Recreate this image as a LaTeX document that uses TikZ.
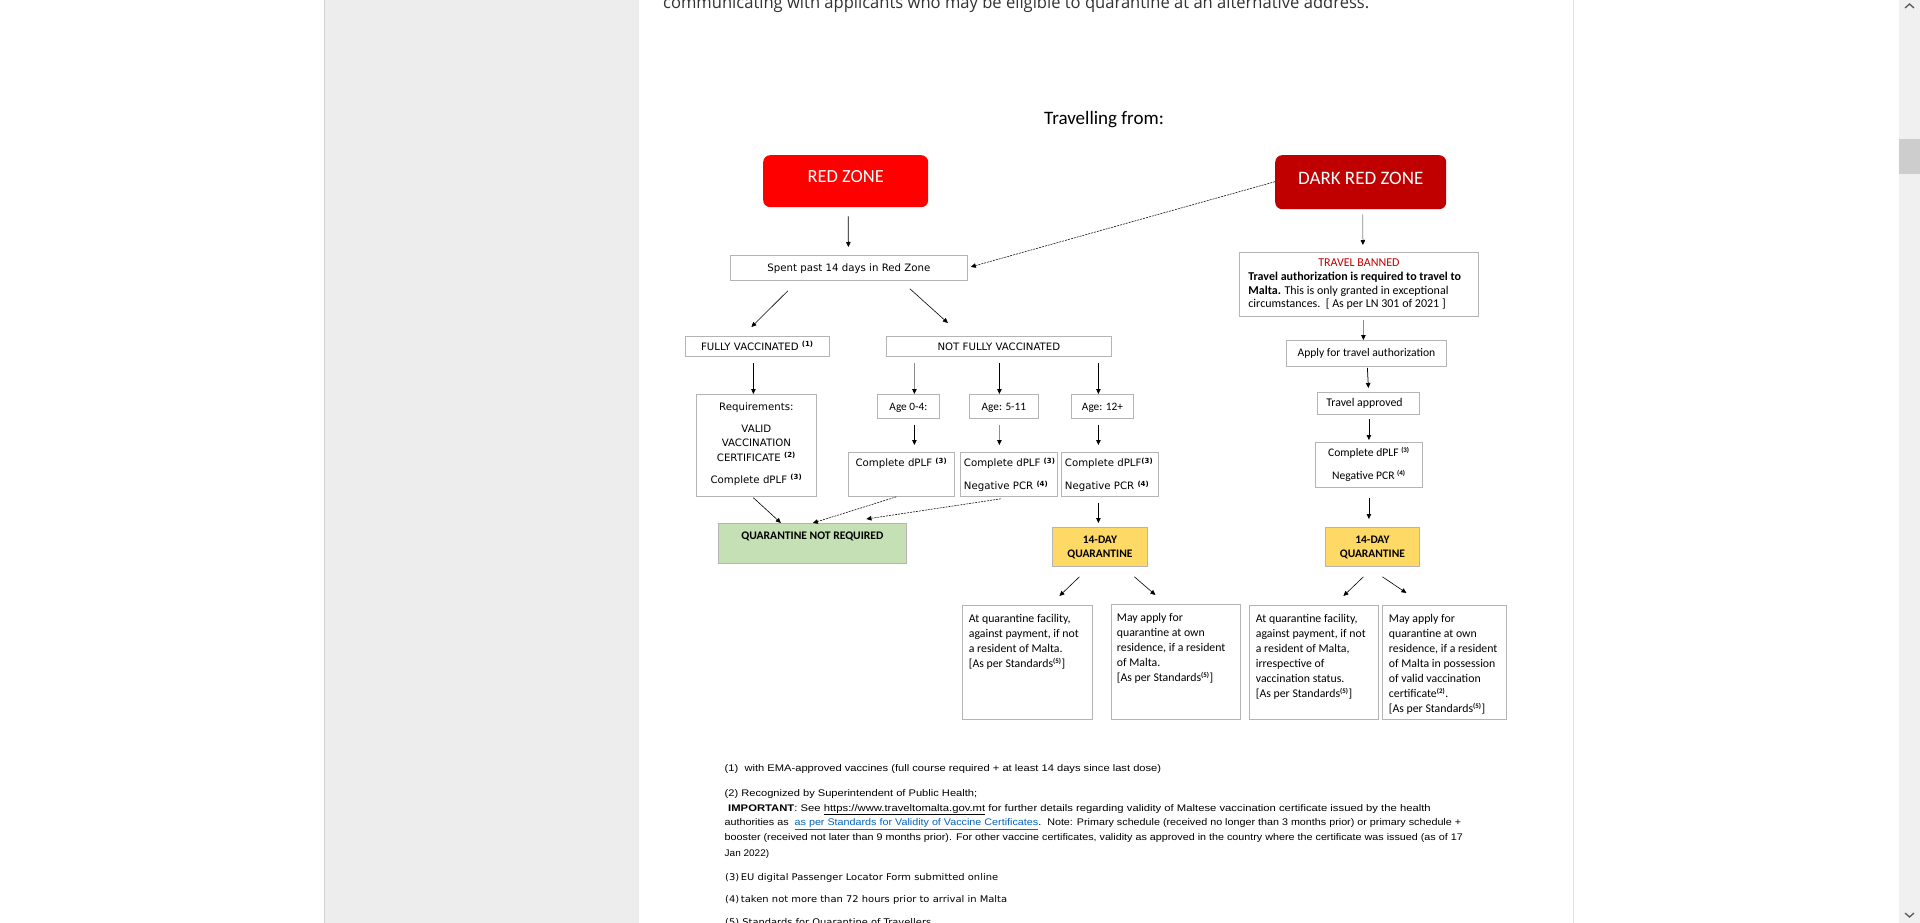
\documentclass[tikz,border=0pt]{standalone}
\usepackage{graphicx}
\usepackage{fontspec}
\setmainfont{Carlito}
\newfontfamily\tah{DejaVu Sans}
\newfontfamily\ars{Liberation Sans}
\newfontfamily\seg{Open Sans}
\usetikzlibrary{arrows.meta,calc}
\definecolor{bord}{RGB}{180,180,180}
\definecolor{redz}{RGB}{255,0,0}
\definecolor{dredz}{RGB}{192,0,0}
\definecolor{grn}{RGB}{197,224,180}
\definecolor{ylw}{RGB}{255,217,102}
\definecolor{panel}{RGB}{237,237,237}
\definecolor{lnk}{RGB}{5,99,193}
\definecolor{sbar}{RGB}{240,240,240}
\definecolor{thumb}{RGB}{205,205,205}
\newcommand\fs[2]{\fontsize{#1}{#2}\selectfont}
\newcommand\fnm[1]{\textsuperscript{\bfseries\fs{7}{8}(#1)}}
\newsavebox\fitbox
\newlength\fitwd
\newcommand\hfit[2]{\sbox\fitbox{#2}\setlength\fitwd{\wd\fitbox}\pgfmathsetmacro\fitr{#1/\fitwd}\scalebox{\fitr}[1]{\usebox\fitbox}}
% width, height, first baseline, setup, text
\newcommand\bt[5]{\parbox[c][#2pt][t]{#1pt}{#4\vspace*{\dimexpr#3pt-0.7\baselineskip\relax}\strut#5}}
\begin{document}
\begin{tikzpicture}[x=1pt,y=-1pt,
  bx/.style={draw=bord,line width=0.8pt,inner sep=0pt,fill=white,anchor=north west},
  zone/.style={rounded corners=7pt,inner sep=0pt,text=white,anchor=north west},
  arr/.style={-{Triangle[length=5pt,width=4.5pt]},line width=0.75pt},
  arrg/.style={-{Triangle[length=5pt,width=4.5pt,color=black]},line width=0.75pt,draw=black!45},
  darr/.style={-{Triangle[length=5pt,width=4.5pt]},line width=0.55pt,dash pattern=on 2pt off 1pt},
  txt/.style={inner sep=0pt,anchor=base west}]
\useasboundingbox (0,0) rectangle (1920,923);
% page background
\fill[white] (0,0) rectangle (1920,923);
\fill[panel] (325,0) rectangle (638,923);
\draw[black!18,line width=1pt] (324.5,0) -- (324.5,923);
\draw[black!8,line width=1pt] (638.5,0) -- (638.5,923);
\draw[black!12,line width=1pt] (1573.5,0) -- (1573.5,923);
\fill[sbar] (1899,0) rectangle (1920,923);
\fill[thumb] (1899,139) rectangle (1920,174);
\draw[black!65,line width=1.3pt] (1905,8) -- (1909.5,4) -- (1914,8);
\draw[black!65,line width=1.3pt] (1905,913) -- (1909.5,917) -- (1914,913);
% top text and title
\node[txt,text=black!80] (top) at (663,8.5) {\hfit{706}{\seg\fs{17}{20}communicating with applicants who may be eligible to quarantine at an alternative address.}};
\node[inner sep=0pt,anchor=base] (title) at (1104,125) {\fs{19}{22}Travelling from:};
% zones
\node[zone,fill=redz] (red) at (763,155) {\bt{165}{52}{27.5}{\fs{18.5}{20}\centering}{RED ZONE}};
\node[zone,fill=dredz] (dark) at (1275,155) {\bt{171}{54}{29}{\fs{19}{20}\centering}{DARK RED ZONE}};
% left branch
\node[bx] (spent) at (730,255) {\bt{237}{25}{16.5}{\tah\fs{10.2}{13}\centering}{Spent past 14 days in Red Zone}};
\node[bx] (fully) at (685,336) {\bt{144}{20}{13.7}{\tah\fs{10.2}{13}\centering}{FULLY VACCINATED \fnm{1}}};
\node[bx] (notfully) at (886,336) {\bt{225}{20}{13.7}{\tah\fs{10.2}{13}\centering}{NOT FULLY VACCINATED}};
\node[bx] (req) at (696,394) {\bt{120}{102}{16}{\tah\fs{10.2}{14.5}\centering}{Requirements:\\[7.5pt]VALID\\VACCINATION\\CERTIFICATE \fnm{2}\\[7.5pt]Complete dPLF \fnm{3}}};
\node[bx] (age04) at (877,394) {\bt{62}{24}{16}{\fs{11.3}{13}\centering}{Age 0-4:}};
\node[bx] (age511) at (969,394) {\bt{69}{24}{16}{\fs{11.3}{13}\centering}{Age: 5-11}};
\node[bx] (age12) at (1071,394) {\bt{62}{24}{16}{\fs{11.3}{13}\centering}{Age: 12+}};
\node[bx] (dplfA) at (848,452) {\bt{106}{44}{14.5}{\tah\fs{10.2}{23}\centering}{Complete dPLF \fnm{3}}};
\node[bx] (dplfB) at (960,452) {\bt{97}{44}{14.5}{\tah\fs{10.2}{23}\raggedright\leftskip=3.5pt\relax}{Complete dPLF \fnm{3}\\Negative PCR \fnm{4}}};
\node[bx] (dplfC) at (1061,452) {\bt{97}{44}{14.5}{\tah\fs{10.2}{23}\raggedright\leftskip=3.5pt\relax}{Complete dPLF\fnm{3}\\Negative PCR \fnm{4}}};
\node[bx,fill=grn] (qnr) at (718,523) {\bt{188}{40}{15.8}{\bfseries\fs{11.6}{14}\centering}{QUARANTINE NOT REQUIRED}};
\node[bx,fill=ylw] (q14L) at (1052,527) {\bt{95}{39}{15.8}{\bfseries\fs{11.5}{14.3}\centering}{14-DAY\\QUARANTINE}};
\node[bx] (L1) at (962,605) {\bt{130}{114}{17.5}{\fs{11.8}{15}\raggedright\leftskip=6.5pt\relax}{At quarantine facility,\\against payment, if not\\a resident of Malta.\\\relax[As per Standards\fnm{5}]}};
\node[bx] (L2) at (1111,604) {\bt{129}{115}{17.5}{\fs{11.8}{15}\raggedright\leftskip=5.5pt\relax}{May apply for\\quarantine at own\\residence, if a resident\\of Malta.\\\relax[As per Standards\fnm{5}]}};
% right branch
\node[bx] (banned) at (1239,252) {\bt{239}{64}{14}{\fs{12}{13.8}\centering}{\textcolor{dredz}{TRAVEL BANNED}\par\raggedright\leftskip=9pt\relax\textbf{Travel authorization is required to travel to}\\\textbf{Malta.} This is only granted in exceptional\\circumstances.\ \ [ As per LN 301 of 2021 ]}};
\node[bx] (apply) at (1286,340) {\bt{160}{26}{15.7}{\fs{11.6}{13}\centering}{Apply for travel authorization}};
\node[bx] (approved) at (1317,392) {\bt{102}{22}{14.5}{\fs{11.8}{13}\raggedright\leftskip=9pt\relax}{Travel approved}};
\node[bx] (dplfR) at (1315,442) {\bt{107}{45}{14.5}{\fs{11.6}{23}\centering}{Complete dPLF \fnm{3}\\Negative PCR \fnm{4}}};
\node[bx,fill=ylw] (q14R) at (1325,527) {\bt{94}{39}{15.8}{\bfseries\fs{11.5}{14.3}\centering}{14-DAY\\QUARANTINE}};
\node[bx] (R1) at (1249,605) {\bt{129}{114}{17.5}{\fs{11.8}{15}\raggedright\leftskip=6.5pt\relax}{At quarantine facility,\\against payment, if not\\a resident of Malta,\\irrespective of\\vaccination status.\\\relax[As per Standards\fnm{5}]}};
\node[bx] (R2) at (1382,605) {\bt{124}{114}{17.5}{\fs{11.8}{15}\raggedright\leftskip=6.5pt\relax}{May apply for\\quarantine at own\\residence, if a resident\\of Malta in possession\\of valid vaccination\\certificate\fnm{2}.\\\relax[As per Standards\fnm{5}]}};
% connectors
\draw[arr] ($(red.south)+(2.5,9)$) -- ($(spent.north)+(-0.5,-8)$);
\draw[darr] ($(dark.west)+(0,-0.5)$) -- ($(spent.east)+(3,-1)$);
\draw[arr,line width=0.6pt] ($(spent.south)+(-61,10)$) -- ($(fully.north)+(-6,-9)$);
\draw[arr,line width=0.6pt] ($(spent.south)+(61,8)$) -- ($(notfully.north)+(-51,-13)$);
\draw[arr] ($(fully.south)+(-4,6)$) -- ($(req.north)+(-3,0)$);
\draw[arrg] ($(notfully.south)+(-84.5,6)$) -- ($(age04.north)+(6,0)$);
\draw[arr] ($(notfully.south)+(0.5,6)$) -- ($(age511.north)+(-4.5,0)$);
\draw[arr] ($(notfully.south)+(99.5,6)$) -- ($(age12.north)+(-4,0)$);
\draw[arr] ($(age04.south)+(6,6)$) -- ($(dplfA.north)+(13,-7)$);
\draw[arrg] ($(age511.south)+(-4.5,6)$) -- ($(dplfB.north)+(-9.5,-7)$);
\draw[arr] ($(age12.south)+(-4,6)$) -- ($(dplfC.north)+(-11.5,-7)$);
\draw[arr,line width=0.6pt] ($(req.south)+(-3,1)$) -- ($(qnr.north)+(-31.5,0)$);
\draw[darr] ($(dplfA.south)+(-5,0)$) -- ($(qnr.north)+(0.5,0)$);
\draw[darr] ($(dplfB.south)+(-8,2)$) -- ($(qnr.north)+(54,-4)$);
\draw[arr] ($(dplfC.south)+(-11.5,6)$) -- ($(q14L.north)+(-1.5,-4)$);
\draw[arr,line width=0.6pt] ($(q14L.south)+(-20.5,10)$) -- ($(L1.north)+(32,-9)$);
\draw[arr,line width=0.6pt] ($(q14L.south)+(34.5,10)$) -- ($(L2.north)+(-20.5,-9)$);
\draw[arrg] ($(dark.south)+(2,5)$) -- ($(banned.north)+(4,-7)$);
\draw[arrg] ($(banned.south)+(4.5,3)$) -- ($(apply.north)+(-3,0)$);
\draw[arr] ($(apply.south)+(1,1)$) -- ($(approved.north)+(0,-4)$);
\draw[arr] ($(approved.south)+(0.5,4)$) -- ($(dplfR.north)+(0,-2)$);
\draw[arr] ($(dplfR.south)+(0,10)$) -- ($(q14R.north)+(-3.5,-8)$);
\draw[arr,line width=0.6pt] ($(q14R.south)+(-9,10)$) -- ($(R1.north)+(29.5,-9)$);
\draw[arr,line width=0.6pt] ($(q14R.south)+(10,10)$) -- ($(R2.north)+(-38,-12)$);
% footnotes
\node[txt] (f1) at (724.5,771.7) {\hfit{436.5}{\ars\fs{9.6}{11}(1)\ \ with EMA-approved vaccines (full course required + at least 14 days since last dose)}};
\node[txt] (f2) at (724.5,796.4) {\hfit{252.5}{\ars\fs{9.6}{11}(2) Recognized by Superintendent of Public Health;}};
\node[txt] (f2b) at (728,811) {\hfit{702.6}{\ars\fs{9.6}{11}\textbf{IMPORTANT}: See \underline{https://www.traveltomalta.gov.mt} for further details regarding validity of Maltese vaccination certificate issued by the health}};
\node[txt] (f2c) at (724.5,825.4) {\hfit{736.5}{\ars\fs{9.6}{11}authorities as\ \ \textcolor{lnk}{\underline{as per Standards for Validity of Vaccine Certificates}}.\ \ Note: Primary schedule (received no longer than 3 months prior) or primary schedule +}};
\node[txt] (f2d) at (724.5,840.4) {\hfit{738.2}{\ars\fs{9.6}{11}booster (received not later than 9 months prior). For other vaccine certificates, validity as approved in the country where the certificate was issued (as of 17}};
\node[txt] (f2e) at (724.5,856) {\hfit{44.5}{\ars\fs{9.6}{11}Jan 2022)}};
\node[txt] (f3) at (725,880) {\hfit{273}{\tah\fs{9.2}{11}(3)\,EU digital Passenger Locator Form submitted online}};
\node[txt] (f4) at (725,902.5) {\hfit{282}{\tah\fs{9.2}{11}(4)\,taken not more than 72 hours prior to arrival in Malta}};
\node[txt] (f5) at (725,925) {\hfit{206}{\tah\fs{9.2}{11}(5) Standards for Quarantine of Travellers}};
\end{tikzpicture}
\end{document}
